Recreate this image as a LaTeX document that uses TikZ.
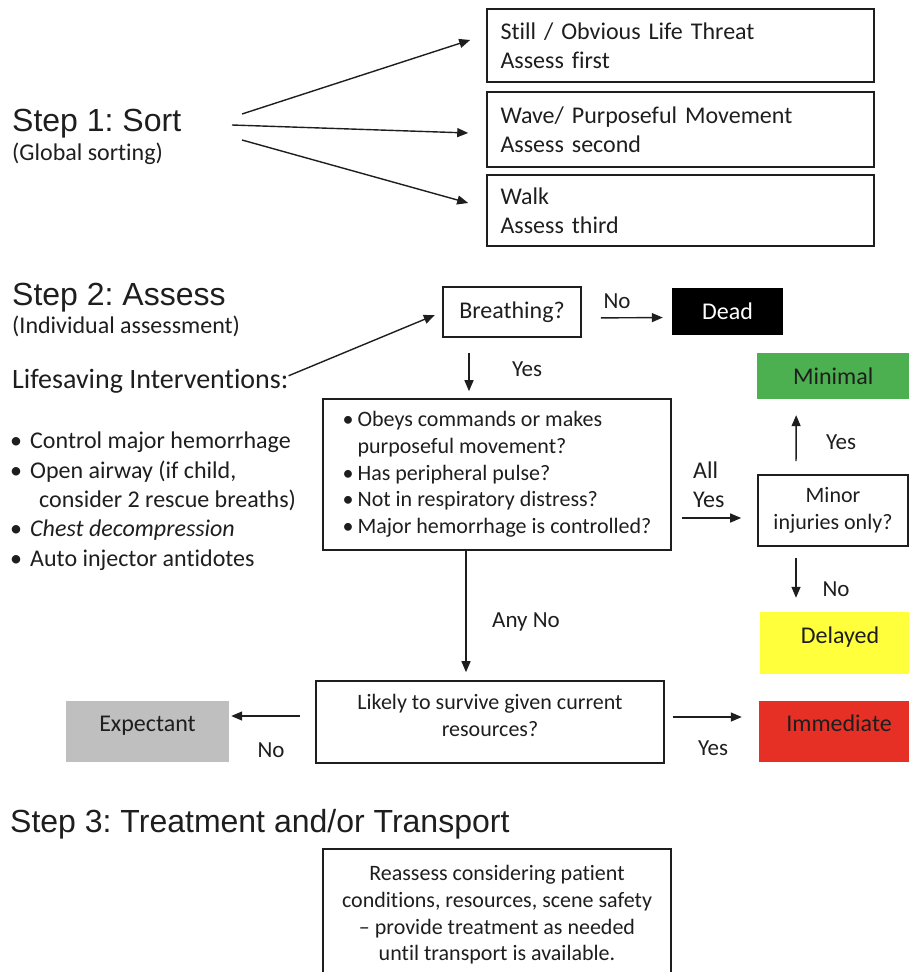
\documentclass[tikz,border=0pt]{standalone}
\usepackage{fontspec}
\setmainfont{Carlito}[Ligatures={NoCommon}]
\newfontfamily\arialfont{Liberation Sans}
\usepackage{tikz}
\usetikzlibrary{arrows.meta}
\frenchspacing

\definecolor{ink}{RGB}{30,30,30}
\definecolor{mingreen}{RGB}{76,175,80}
\definecolor{delyellow}{RGB}{255,255,60}
\definecolor{immred}{RGB}{230,48,38}
\definecolor{expgrey}{RGB}{191,191,191}

\newcommand{\itemdot}[1][20pt]{\makebox[#1][l]{\textbullet}}

\begin{document}
\begin{tikzpicture}[
    x=1pt, y=-1pt,
    >={Triangle[length=11pt,width=9pt]},
    every node/.style={font=\fontsize{24}{29.3}\selectfont, text=ink, inner sep=0pt},
    box/.style={draw=ink, line width=1.6pt},
    steptitle/.style={font=\arialfont\fontsize{32}{38}\selectfont, anchor=base west},
    note/.style={anchor=base west},
    smalltxt/.style={font=\fontsize{22}{26.7}\selectfont},
    lbl/.style={font=\fontsize{23}{28}\selectfont},
    catbox/.style={fill=#1, minimum height=61pt, text height=12pt, text depth=12pt},
    conn/.style={->, draw=ink, line width=1.4pt}
  ]

    \useasboundingbox (0,0) rectangle (909,972);
    \clip (0,0) rectangle (909,972);

    %=== ステップ1(振り分け) ===%
    \node[steptitle] (sort) at (12,131) {Step 1: Sort};
    \node[note] (global) at (12,160) {(Global sorting)};

    \node[box, text width=360pt, inner xsep=13.5pt, minimum height=73pt, align=left]
      (still) at (680.5,45.5) {Still / Obvious Life Threat\\Assess first};
    \node[box, text width=360pt, inner xsep=13.5pt, minimum height=75pt, align=left]
      (wave) at (680.5,129.5) {Wave/ Purposeful Movement\\Assess second};
    \node[box, text width=360pt, inner xsep=13.5pt, minimum height=71pt, align=left]
      (walk) at (680.5,210.5) {Walk\\Assess third};

    \coordinate (s1) at (242,114);
    \coordinate (s2) at (232,125);
    \coordinate (s3) at (242,140);
    \draw[conn, shorten >=16.8pt] (s1) -- ([yshift=10.7pt]still.west);
    \draw[conn, shorten >=18pt] (s2) -- ([yshift=-4.1pt]wave.west);
    \draw[conn, shorten >=18.7pt] (s3) -- ([yshift=2.5pt]walk.west);

    %=== ステップ2(個別評価) ===%
    \node[steptitle] (assess) at (12,305) {Step 2: Assess};
    \node[note] (indiv) at (12,333) {(Individual assessment)};
    \node[note, font=\fontsize{28}{34}\selectfont] (lifesave) at (12,388) {Lifesaving Interventions:};

    \node[anchor=north west, align=left] (actions) at (10,432)
      {\itemdot Control major hemorrhage\\
       \itemdot Open airway (if child,\\
       \hspace*{29pt}consider 2 rescue breaths)\\
       \itemdot\textit{Chest decompression}\\
       \itemdot Auto injector antidotes};

    \node[box, minimum width=138pt, minimum height=50pt] (breath) at (512,312) {Breathing?};
    \node[fill=black, text=white, minimum width=111pt, minimum height=47pt] (dead) at (727.5,311.5) {Dead};

    \draw[conn, shorten >=8pt] ([yshift=5pt]lifesave.east) -- (breath.west);
    \draw[conn, shorten <=19pt, shorten >=9pt] ([yshift=-6pt]breath.east) -- ([yshift=-6pt]dead.west);
    \node[lbl] (nolbl1) at (617,301) {No};

    \node[box, smalltxt, minimum width=348pt, minimum height=151pt, align=left] (checks) at (497,474.5)
      {\itemdot[15pt]Obeys commands or makes\\
       \hspace*{15pt}purposeful movement?\\
       \itemdot[15pt]Has peripheral pulse?\\
       \itemdot[15pt]Not in respiratory distress?\\
       \itemdot[15pt]Major hemorrhage is controlled?};

    \draw[conn, shorten <=15pt, shorten >=7pt] ([xshift=-43pt]breath.south) -- ([xshift=-28pt]checks.north);
    \node[lbl] (yeslbl1) at (527,369) {Yes};

    % 右側の区分
    \node[fill=mingreen, minimum width=152pt, minimum height=46pt, anchor=west] (minimal) at (757,376) {Minimal};
    \node[box, smalltxt, minimum width=150pt, minimum height=71pt, align=center] (minor) at (833,510.5) {Minor\\injuries only?};
    \node[catbox=delyellow, minimum width=160pt, minimum height=62pt] (delayed) at (840,643) {Delayed};

    \node[anchor=west, align=left] (allyes) at (693,485) {All\\Yes};
    \draw[conn, shorten <=10pt, shorten >=16pt] ([yshift=-43.5pt]checks.east) -- ([yshift=-7.5pt]minor.west);
    \draw[conn, shorten <=13pt, shorten >=16pt] ([xshift=-37pt]minor.north) -- ([xshift=-37pt]minimal.south);
    \node[lbl] (yeslbl2) at (841,442) {Yes};
    \draw[conn, shorten <=11pt, shorten >=14pt] ([xshift=-37pt]minor.south) -- ([xshift=-44pt]delayed.north);
    \node[lbl] (nolbl2) at (836,589) {No};

    %=== 生存見込み ===%
    \node[box, smalltxt, minimum width=348pt, minimum height=82pt, align=center, text depth=13pt]
      (likely) at (490,722) {Likely to survive given current\\resources?};
    \draw[conn, shorten >=8pt] ([xshift=-31pt]checks.south) -- ([xshift=-24pt]likely.north);
    \node[lbl] (anynolbl) at (526,622) {Any No};

    \node[catbox=expgrey, minimum width=163pt] (expect) at (147.5,731.5) {Expectant};
    \node[catbox=immred, minimum width=160pt] (immed) at (839,731.5) {Immediate};

    \draw[conn, shorten <=15pt, shorten >=2pt] ([yshift=6pt]likely.west) -- ([yshift=15.5pt]expect.east);
    \node[lbl] (nolbl3) at (271,750) {No};
    \draw[conn, shorten <=8pt, shorten >=17pt] ([yshift=5pt]likely.east) -- ([yshift=14.5pt]immed.west);
    \node[lbl] (yeslbl3) at (713,748) {Yes};

    %=== ステップ3(治療・搬送) ===%
    \node[steptitle] (treat) at (10,832) {Step 3: Treatment and/or Transport};
    \node[box, smalltxt, anchor=north, minimum width=348pt, minimum height=132pt, align=center]
      (reassess) at (497,848)
      {Reassess considering patient\\conditions, resources, scene safety\\– provide treatment as needed\\until transport is available.};

  \end{tikzpicture}
\end{document}
